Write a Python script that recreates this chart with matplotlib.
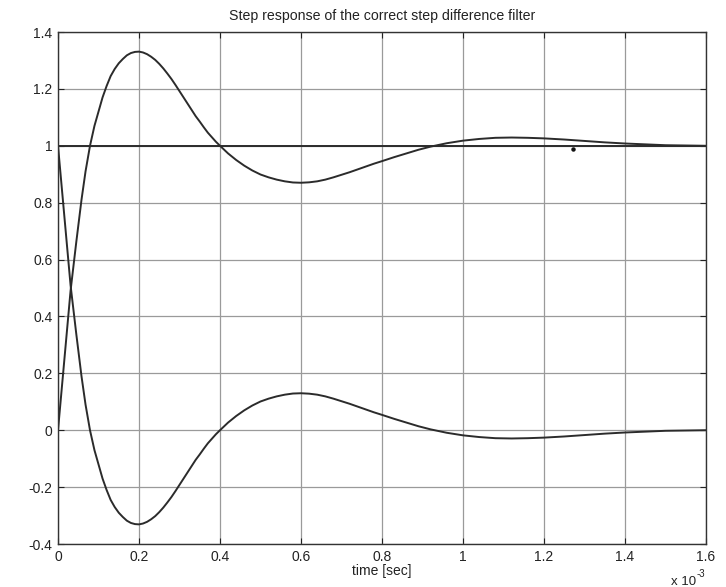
import matplotlib
matplotlib.use("Agg")
import matplotlib.pyplot as plt

# time in units of 1e-3 s
t_ms = [0.0, 0.031, 0.045, 0.058, 0.068, 0.079, 0.09, 0.10, 0.11, 0.12,
        0.13, 0.14, 0.15, 0.16, 0.17, 0.18, 0.19, 0.20, 0.21, 0.22,
        0.23, 0.24, 0.25, 0.26, 0.27, 0.28, 0.29, 0.30, 0.31, 0.32,
        0.33, 0.34, 0.35, 0.36, 0.37, 0.38, 0.39, 0.40, 0.42, 0.44,
        0.46, 0.48, 0.50, 0.52, 0.54, 0.56, 0.58, 0.60, 0.62, 0.64,
        0.66, 0.68, 0.70, 0.72, 0.74, 0.76, 0.78, 0.80, 0.83, 0.86,
        0.89, 0.92, 0.96, 1.00, 1.04, 1.08, 1.12, 1.16, 1.20, 1.25,
        1.30, 1.35, 1.40, 1.45, 1.50, 1.55, 1.60]
step_resp = [0.0, 0.49, 0.66, 0.81, 0.91, 1.0, 1.07, 1.12, 1.17, 1.21,
             1.245, 1.27, 1.29, 1.305, 1.318, 1.326, 1.33, 1.331, 1.328, 1.322,
             1.313, 1.302, 1.288, 1.272, 1.254, 1.235, 1.214, 1.192, 1.17, 1.148,
             1.126, 1.104, 1.085, 1.065, 1.046, 1.03, 1.014, 1.0, 0.973, 0.95,
             0.93, 0.913, 0.899, 0.889, 0.881, 0.875, 0.871, 0.87, 0.8715, 0.875,
             0.881, 0.889, 0.898, 0.907, 0.917, 0.927, 0.937, 0.946, 0.96, 0.973,
             0.986, 0.997, 1.009, 1.018, 1.024, 1.028, 1.029, 1.028, 1.026, 1.022,
             1.017, 1.012, 1.008, 1.005, 1.002, 1.001, 1.0]
error_resp = [1.0, 0.51, 0.34, 0.19, 0.09, 0.0, -0.07, -0.12, -0.17, -0.21,
              -0.245, -0.27, -0.29, -0.305, -0.318, -0.326, -0.33, -0.331, -0.328, -0.322,
              -0.313, -0.302, -0.288, -0.272, -0.254, -0.235, -0.214, -0.192, -0.17, -0.148,
              -0.126, -0.104, -0.085, -0.065, -0.046, -0.03, -0.014, 0.0, 0.027, 0.05,
              0.07, 0.087, 0.101, 0.111, 0.119, 0.125, 0.129, 0.13, 0.1285, 0.125,
              0.119, 0.111, 0.102, 0.093, 0.083, 0.073, 0.063, 0.054, 0.04, 0.027,
              0.014, 0.003, -0.009, -0.018, -0.024, -0.028, -0.029, -0.028, -0.026, -0.022,
              -0.017, -0.012, -0.008, -0.005, -0.002, -0.001, 0.0]
ref_t = [0.0, 1.6]
ref_level = [1.0, 1.0]
speck_t = [1.272]
speck_v = [0.99]

xticks = [0, 0.2, 0.4, 0.6, 0.8, 1.0, 1.2, 1.4, 1.6]
xtick_labels = ["0", "0.2", "0.4", "0.6", "0.8", "1", "1.2", "1.4", "1.6"]
yticks = [-0.4, -0.2, 0, 0.2, 0.4, 0.6, 0.8, 1.0, 1.2, 1.4]
ytick_labels = ["-0.4", "-0.2", "0", "0.2", "0.4", "0.6", "0.8", "1", "1.2", "1.4"]

plt.rcParams['font.family'] = ['Liberation Sans', 'DejaVu Sans']

fig = plt.figure(figsize=(7.26, 5.87), dpi=100)
ax = fig.add_axes([58/726, 1 - 544/587, (706 - 58)/726, (544 - 32)/587])

line_col = '#2b2b2b'
ax.plot(t_ms, step_resp, color=line_col, lw=1.4)
ax.plot(t_ms, error_resp, color=line_col, lw=1.4)
ax.plot(ref_t, ref_level, color=line_col, lw=1.4)
ax.plot(speck_t, speck_v, 'o', color='#111111', ms=2.2)

ax.set_xlim(0, 1.6)
ax.set_ylim(-0.4, 1.4)
ax.set_xticks(xticks)
ax.set_xticklabels(xtick_labels)
ax.set_yticks(yticks)
ax.set_yticklabels(ytick_labels)
ax.grid(True, color='#9a9a9a', lw=0.9, ls='-')
ax.set_axisbelow(True)
ax.tick_params(direction='in', top=True, right=True, length=4, width=0.8,
               labelsize=10, colors='#222222', pad=4)
for s in ax.spines.values():
    s.set_color('#333333')
    s.set_linewidth(1.0)

ax.set_title("Step response of the correct step difference filter",
             fontsize=10.2, color='#222222', pad=8.5)
ax.set_xlabel("time [sec]", fontsize=10, color='#222222', labelpad=0)
fig.text(671/726, 1 - 585/587, "x 10", fontsize=9.5, color='#222222',
         ha='left', va='baseline')
fig.text(697/726, 1 - 577/587, "-3", fontsize=7, color='#222222',
         ha='left', va='baseline')

fig.savefig("out.png", dpi=100, facecolor='white')
